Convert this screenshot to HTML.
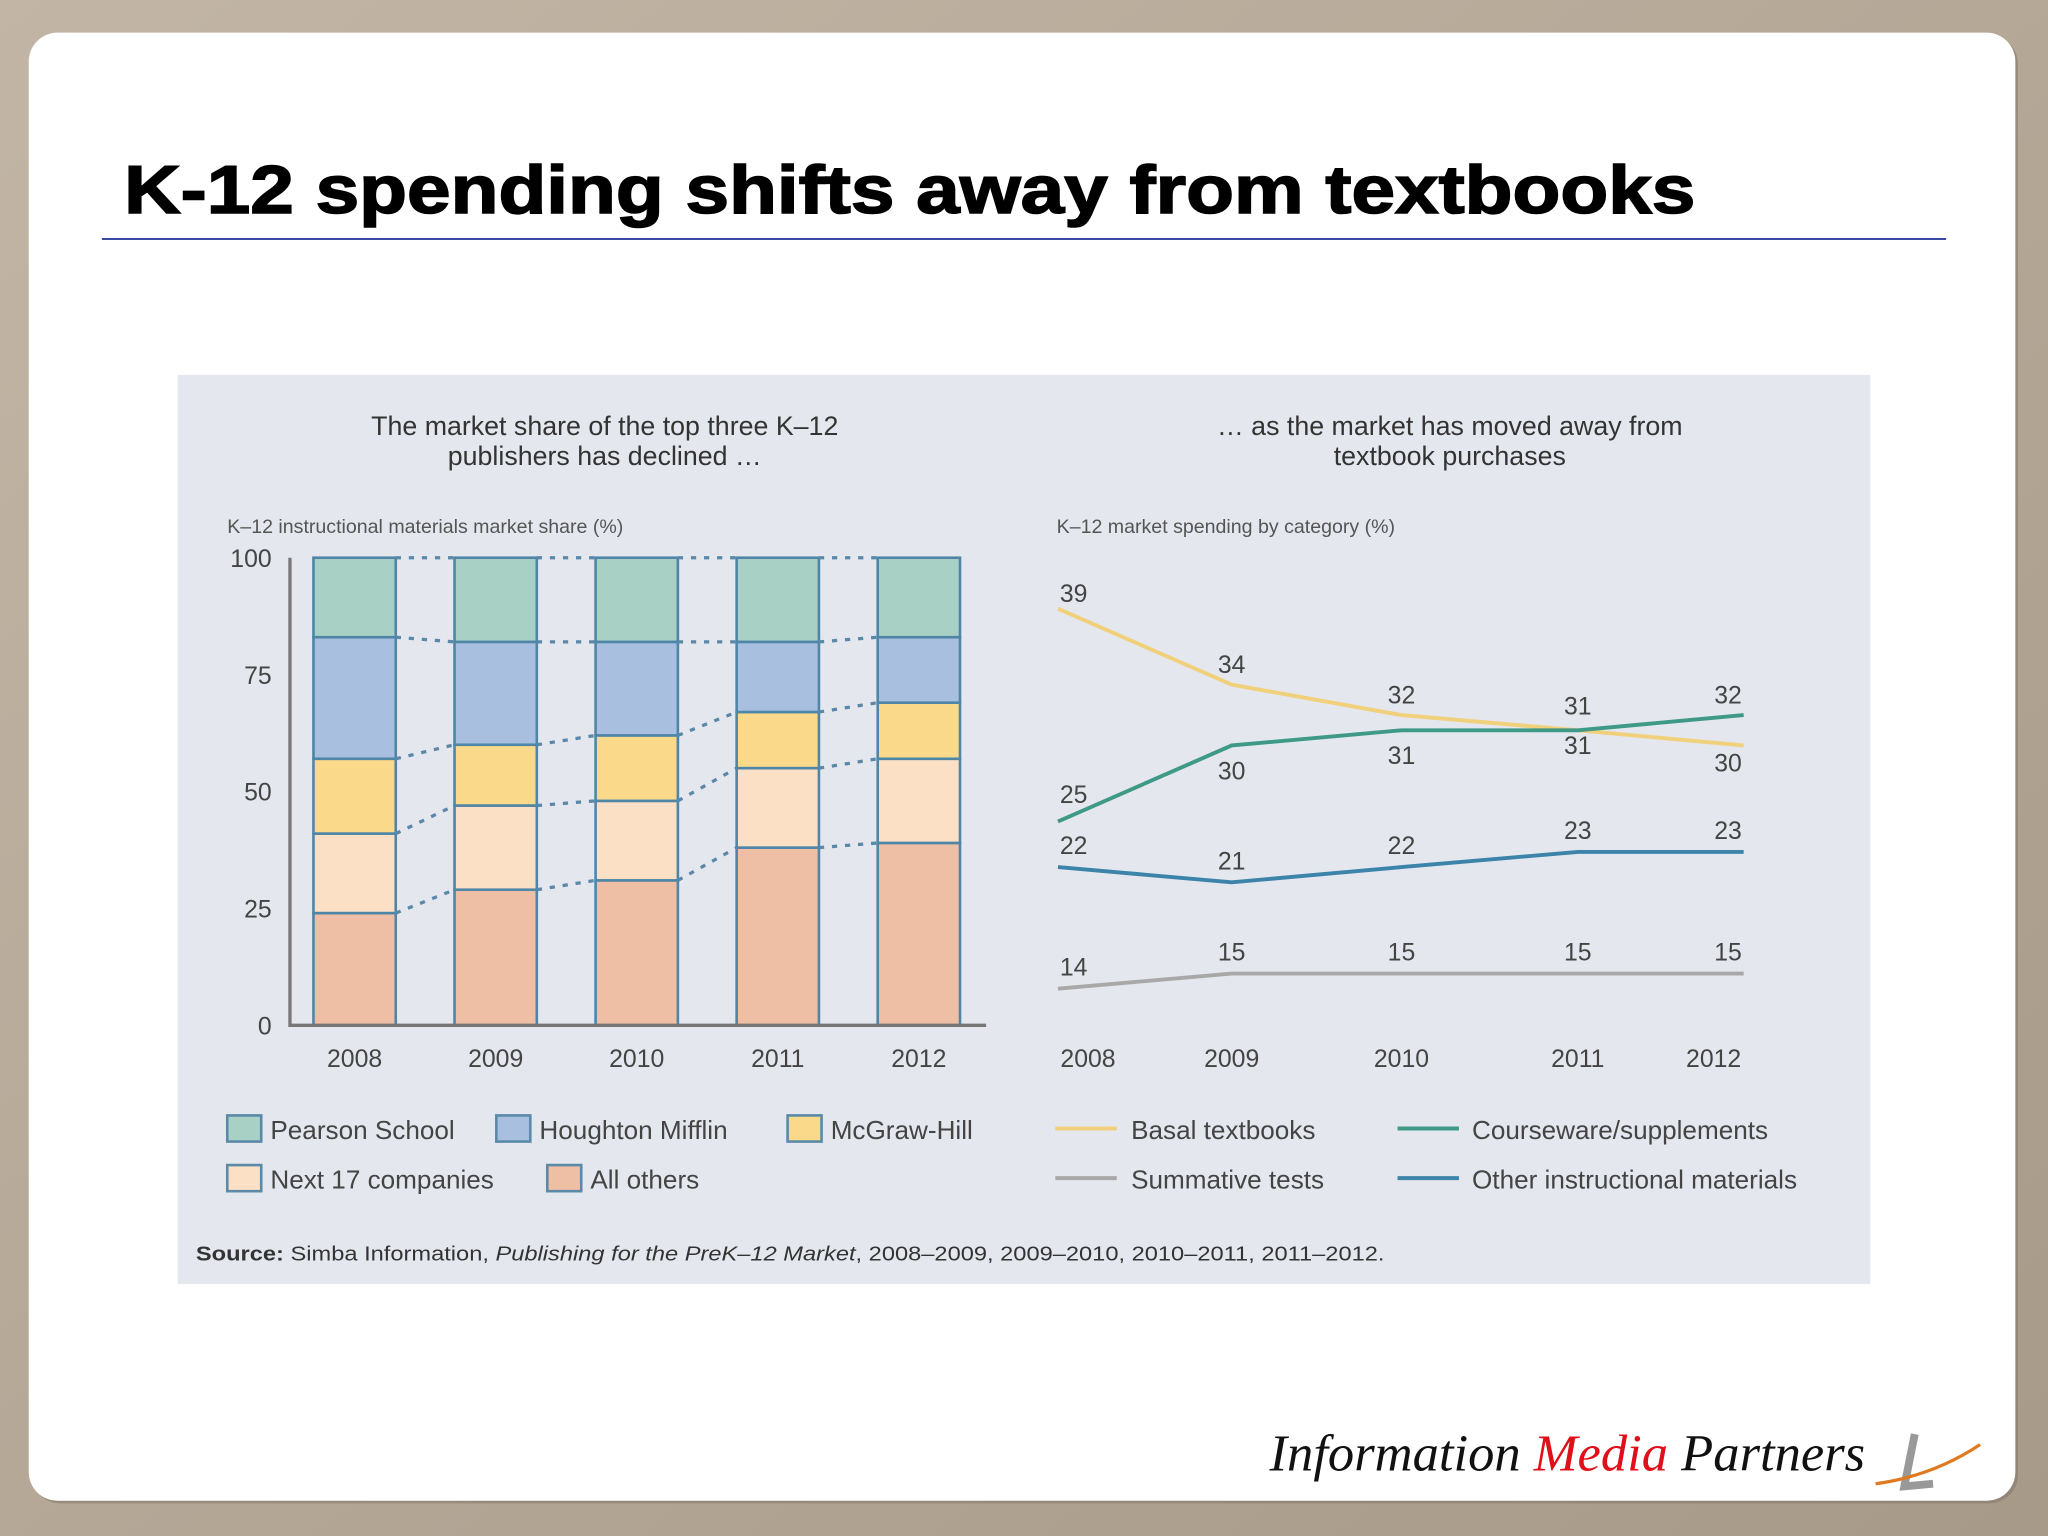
<!DOCTYPE html>
<html><head><meta charset="utf-8"><style>
html,body{margin:0;padding:0;background:#b3a696;}
svg{display:block;font-family:"Liberation Sans",sans-serif;}
</style></head><body>
<svg id="s" width="2048" height="1536" viewBox="0 0 1568 1176">
<defs><linearGradient id="bg" x1="0" y1="0" x2="1" y2="1"><stop offset="0" stop-color="#c2b5a5"/><stop offset="1" stop-color="#a89a88"/></linearGradient></defs>
<rect width="1568" height="1176" fill="url(#bg)"/>
<rect x="24" y="27" width="1521" height="1124" rx="22" fill="#7d7264" opacity="0.5"/>
<rect x="22" y="25" width="1521" height="1124" rx="22" fill="#ffffff"/>
<text x="95" y="163" font-size="52" font-weight="bold" fill="#000" stroke="#000" stroke-width="1.2" textLength="1203" lengthAdjust="spacingAndGlyphs">K-12 spending shifts away from textbooks</text>
<line x1="78" y1="183" x2="1490" y2="183" stroke="#3a4aa0" stroke-width="1.5"/>
<rect x="136" y="287" width="1296" height="696" fill="#e5e7ee"/>
<g fill="#333" font-size="20.5" text-anchor="middle">
<text x="463" y="333">The market share of the top three K–12</text>
<text x="463" y="356">publishers has declined …</text>
<text x="1110" y="333">… as the market has moved away from</text>
<text x="1110" y="356">textbook purchases</text>
</g>
<g fill="#555" font-size="15">
<text x="174" y="408">K–12 instructional materials market share (%)</text>
<text x="809" y="408">K–12 market spending by category (%)</text>
</g>
<g id="left"></g>
<g id="right"></g>
<g font-size="20" fill="#444" id="legend">
<rect x="174" y="854" width="26" height="20" fill="#a9d0c4" stroke="#5a8aa8" stroke-width="2"/><text x="207" y="872">Pearson School</text>
<rect x="380" y="854" width="26" height="20" fill="#a9bfe0" stroke="#5a8aa8" stroke-width="2"/><text x="413" y="872">Houghton Mifflin</text>
<rect x="603" y="854" width="26" height="20" fill="#fbd98a" stroke="#5a8aa8" stroke-width="2"/><text x="636" y="872">McGraw-Hill</text>
<rect x="174" y="892" width="26" height="20" fill="#fce0c5" stroke="#5a8aa8" stroke-width="2"/><text x="207" y="910">Next 17 companies</text>
<rect x="419" y="892" width="26" height="20" fill="#eebfa5" stroke="#5a8aa8" stroke-width="2"/><text x="452" y="910">All others</text>
<line x1="808" y1="864" x2="855" y2="864" stroke="#f0d07a" stroke-width="3"/><text x="866" y="872">Basal textbooks</text>
<line x1="1070" y1="864" x2="1117" y2="864" stroke="#3e9a86" stroke-width="3"/><text x="1127" y="872">Courseware/supplements</text>
<line x1="808" y1="902" x2="855" y2="902" stroke="#a8a8a8" stroke-width="3"/><text x="866" y="910">Summative tests</text>
<line x1="1070" y1="902" x2="1117" y2="902" stroke="#3c84aa" stroke-width="3"/><text x="1127" y="910">Other instructional materials</text>
</g>
<text x="150" y="965" font-size="15.5" fill="#333" textLength="910" lengthAdjust="spacingAndGlyphs"><tspan font-weight="bold">Source:</tspan> Simba Information, <tspan font-style="italic">Publishing for the PreK–12 Market</tspan>, 2008–2009, 2009–2010, 2010–2011, 2011–2012.</text>
<g font-family="Liberation Serif, serif" font-style="italic" font-size="40">
<text x="972" y="1126" fill="#111" textLength="456" lengthAdjust="spacingAndGlyphs">Information <tspan fill="#e0101a">Media</tspan> Partners</text>
<path d="M1466 1098 L1458 1138 L1480 1136" stroke="#999" stroke-width="6" fill="none"/>
<path d="M1436 1136 Q1480 1130 1516 1106" stroke="#e07a20" stroke-width="2.5" fill="none"/>
</g>
</svg>
<script>
const years=['2008','2009','2010','2011','2012'];
const allOthers=[24,29,31,38,39];
const next17=[17,18,17,17,18];
const mcgraw=[16,13,14,12,12];
const houghton=[26,22,20,15,14];
const pearson=[17,18,18,18,17];
const yTicks=[0,25,50,75,100];
const lyears=['2008','2009','2010','2011','2012'];
const basal=[39,34,32,31,30];
const courseware=[25,30,31,31,32];
const otherMat=[22,21,22,23,23];
const summative=[14,15,15,15,15];

const NS='http://www.w3.org/2000/svg';
function mk(parent,tag,attrs){const e=document.createElementNS(NS,tag);for(const k in attrs)e.setAttribute(k,attrs[k]);parent.appendChild(e);return e;}
const L=document.getElementById('left');
const ly=v=>785-v*3.58;
const barX=[240,348,456,564,672];
const bx=i=>barX[i];const bw=63;
const series=[allOthers,next17,mcgraw,houghton,pearson];
const cols=['#eebfa5','#fce0c5','#fbd98a','#a9bfe0','#a9d0c4'];
const names=['all-others','next17','mcgraw','houghton','pearson'];
yTicks.forEach(t=>{const tx=mk(L,'text',{x:208,y:ly(t)+7,'font-size':19,fill:'#444','text-anchor':'end'});tx.textContent=t;

});
const cum=years.map(()=>0);
const bounds=[];
series.forEach((s,k)=>{const b=[];years.forEach((y,i)=>{const y0=cum[i],y1=cum[i]+s[i];cum[i]=y1;
const r=mk(L,'rect',{x:bx(i),y:ly(y1),width:bw,height:ly(y0)-ly(y1),fill:cols[k],stroke:'#4f86a8','stroke-width':2});


b.push(y1);});bounds.push(b);});
bounds.forEach(b=>{for(let i=0;i<4;i++){const l=mk(L,'line',{x1:bx(i)+bw,y1:ly(b[i]),x2:bx(i+1),y2:ly(b[i+1]),stroke:'#5a88a8','stroke-width':2.5,'stroke-dasharray':'4 6'});

}});
const ax=mk(L,'path',{d:'M222 427 V785 H755',stroke:'#777','stroke-width':2.5,fill:'none'});


years.forEach((y,i)=>{const t=mk(L,'text',{x:bx(i)+bw/2,y:817,'font-size':19,fill:'#444','text-anchor':'middle'});t.textContent=y;

});
const R=document.getElementById('right');
const lxArr=[810,943,1073,1208,1335];
const rx=i=>lxArr[i];
const ry=v=>466+(39-v)*11.64;
const lines=[[basal,'#f0d07a','basal'],[courseware,'#3e9a86','courseware'],[otherMat,'#3c84aa','other'],[summative,'#a8a8a8','summative']];
lines.forEach(([d,c,n])=>{
const p=mk(R,'path',{d:d.map((v,i)=>(i?'L':'M')+rx(i)+' '+ry(v)).join(' '),stroke:c,'stroke-width':3,fill:'none'});


d.forEach((v,i)=>{let off;
if(n==='basal')off=i==0?-5:-9;else if(n==='courseware')off=i==0?-14:26;else off=-10;
if(n==='basal'&&i==3)off=-12;
if(n==='courseware'&&i==3)off=18;
if(n==='courseware'&&i==4)off=-9;
if(n==='basal'&&i==4)off=20;
const tx=i==0?822:(i==4?1323:rx(i));
const t=mk(R,'text',{x:tx,y:ry(v)+off,'font-size':19,fill:'#444','text-anchor':'middle'});t.textContent=v;

});});
lyears.forEach((y,i)=>{const t=mk(R,'text',{x:[833,943,1073,1208,1312][i],y:817,'font-size':19,fill:'#444','text-anchor':'middle'});t.textContent=y;

});
</script>
</body></html>
